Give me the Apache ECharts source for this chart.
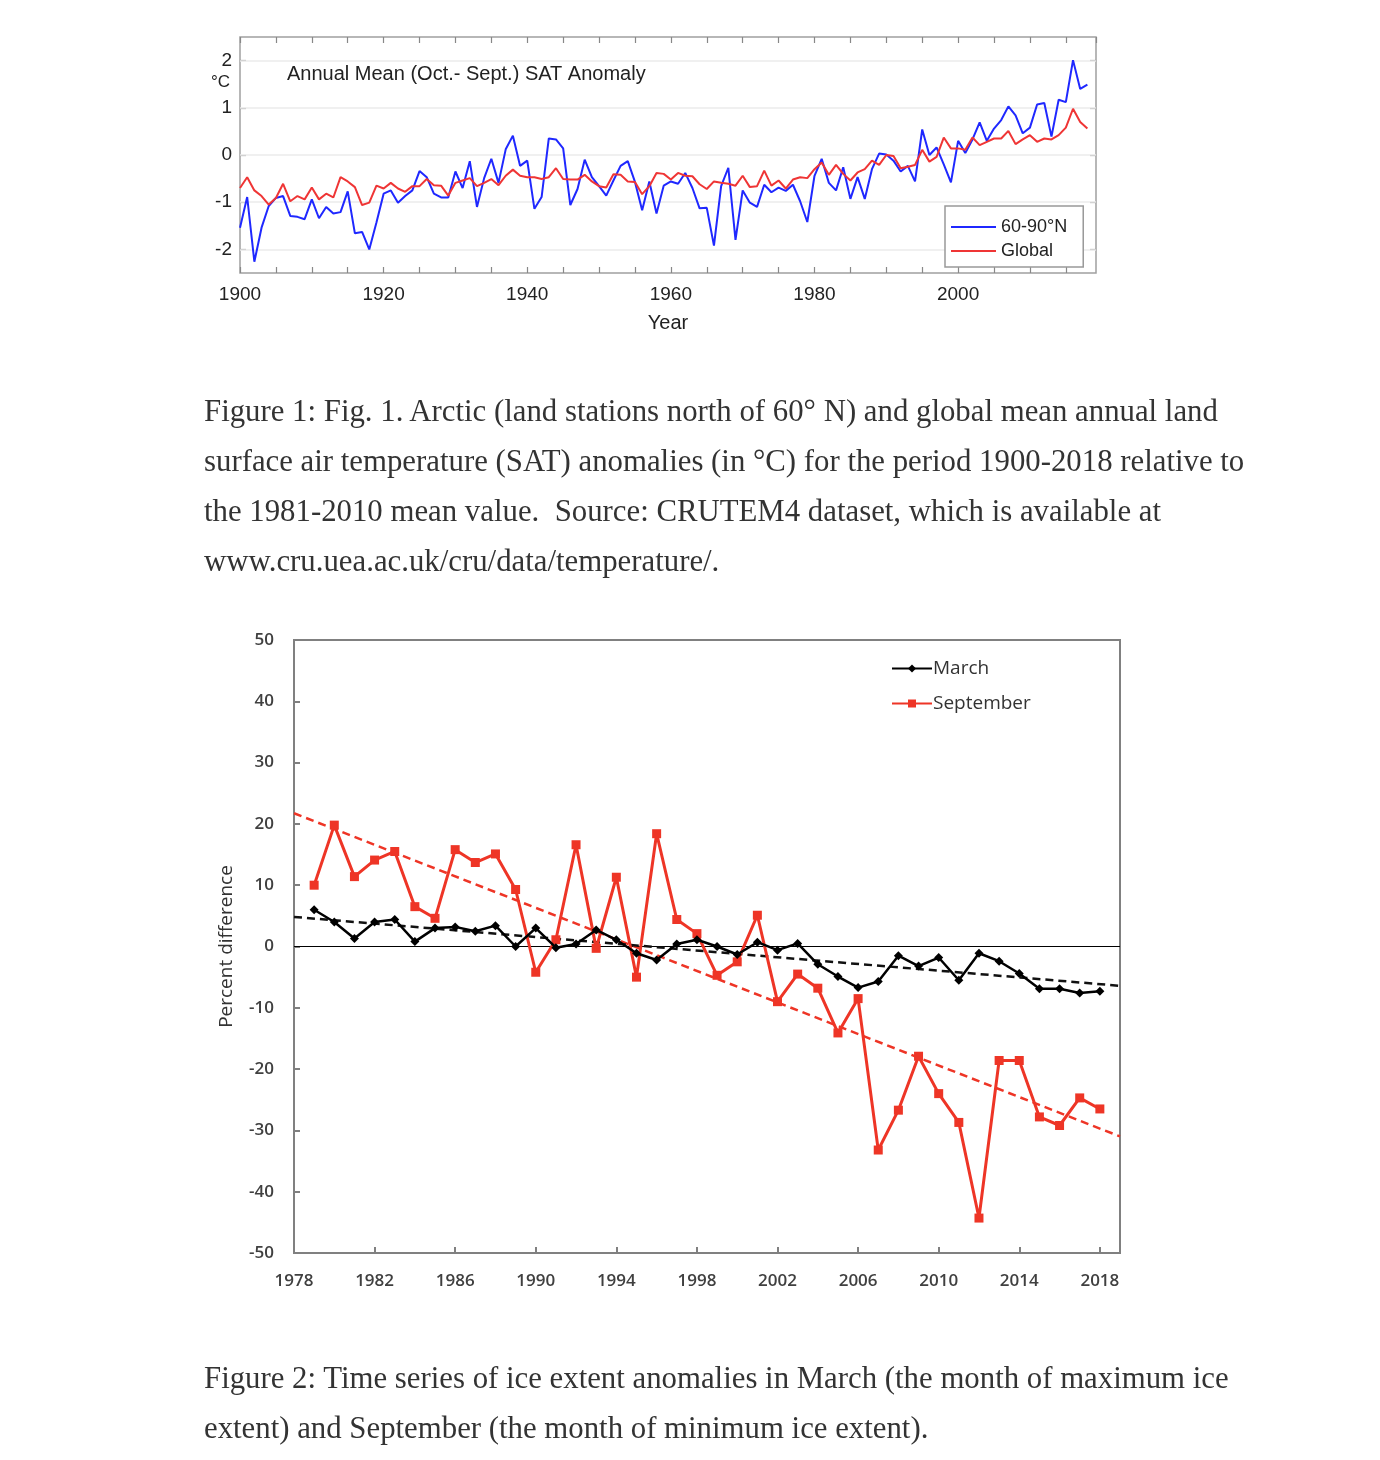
<!DOCTYPE html>
<html>
<head>
<meta charset="utf-8">
<script src="https://cdn.jsdelivr.net/npm/echarts@6/dist/echarts.min.js"></script>
<style>
  html, body { margin: 0; padding: 0; background: #fff; }
  #chart { position: absolute; left: 0; top: 0; width: 1380px; height: 1460px; }
  .cap { position: absolute; left: 204px; font-family: "Liberation Serif", "DejaVu Serif", serif;
         font-size: 30.8px; line-height: 50px; color: #333; white-space: nowrap; }
</style>
</head>
<body>
<div id="chart"></div>
<div class="cap" style="top:386px">Figure 1: Fig. 1. Arctic (land stations north of 60° N) and global mean annual land<br>surface air temperature (SAT) anomalies (in °C) for the period 1900-2018 relative to<br>the 1981-2010 mean value.&nbsp; Source: CRUTEM4 dataset, which is available at<br>www.cru.uea.ac.uk/cru/data/temperature/.</div>
<div class="cap" style="top:1353px">Figure 2: Time series of ice extent anomalies in March (the month of maximum ice<br>extent) and September (the month of minimum ice extent).</div>
<script>
// ---------- Figure 1 data (annual SAT anomalies, °C) ----------
const satStartYear = 1900;
const arcticSAT = [
  -1.54,-0.89,-2.26,-1.54,-1.08,-0.91,-0.87,-1.29,-1.31,-1.36,
  -0.94,-1.34,-1.10,-1.24,-1.21,-0.77,-1.66,-1.63,-2.00,-1.43,
  -0.82,-0.75,-1.01,-0.87,-0.75,-0.34,-0.47,-0.82,-0.90,-0.90,
  -0.35,-0.70,-0.13,-1.10,-0.49,-0.08,-0.59, 0.12, 0.41,-0.23,
  -0.12,-1.14,-0.89, 0.35, 0.33, 0.14,-1.06,-0.72,-0.10,-0.47,
  -0.66,-0.86,-0.54,-0.23,-0.13,-0.57,-1.17,-0.56,-1.24,-0.65,
  -0.56,-0.61,-0.38,-0.70,-1.13,-1.12,-1.92,-0.66,-0.27,-1.80,
  -0.75,-1.01,-1.10,-0.63,-0.79,-0.69,-0.76,-0.63,-0.98,-1.42,
  -0.44,-0.08,-0.59,-0.75,-0.26,-0.93,-0.47,-0.93,-0.30, 0.03,
   0.01,-0.12,-0.35,-0.23,-0.56, 0.54, 0.00, 0.16,-0.20,-0.58,
   0.30, 0.04, 0.33, 0.69, 0.30, 0.56, 0.74, 1.03, 0.84, 0.46,
   0.58, 1.07, 1.10, 0.39, 1.17, 1.12, 2.01, 1.40, 1.49
];
const globalSAT = [
  -0.70,-0.47,-0.75,-0.87,-1.05,-0.91,-0.61,-0.98,-0.87,-0.94,
  -0.69,-0.94,-0.82,-0.90,-0.47,-0.56,-0.68,-1.06,-1.01,-0.65,
  -0.71,-0.59,-0.71,-0.78,-0.66,-0.66,-0.51,-0.64,-0.65,-0.86,
  -0.59,-0.54,-0.49,-0.66,-0.59,-0.51,-0.64,-0.44,-0.31,-0.44,
  -0.47,-0.47,-0.51,-0.47,-0.28,-0.51,-0.52,-0.52,-0.42,-0.56,
  -0.66,-0.69,-0.41,-0.42,-0.56,-0.57,-0.83,-0.66,-0.38,-0.40,
  -0.52,-0.38,-0.44,-0.45,-0.62,-0.72,-0.56,-0.59,-0.61,-0.65,
  -0.44,-0.68,-0.66,-0.33,-0.65,-0.54,-0.71,-0.52,-0.47,-0.49,
  -0.30,-0.16,-0.42,-0.21,-0.40,-0.54,-0.37,-0.30,-0.12,-0.21,
   0.00,-0.02,-0.28,-0.25,-0.21, 0.11,-0.14,-0.04, 0.37, 0.14,
   0.14, 0.11, 0.37, 0.21, 0.28, 0.35, 0.35, 0.51, 0.23, 0.33,
   0.42, 0.28, 0.35, 0.33, 0.42, 0.58, 0.98, 0.70, 0.56
];
const satYTicks = [-2, -1, 0, 1, 2];
const satXLabelYears = [1900, 1920, 1940, 1960, 1980, 2000];

// ---------- Figure 2 data (ice extent anomalies, %) ----------
const iceYears = [1979,1980,1981,1982,1983,1984,1985,1986,1987,1988,
                  1989,1990,1991,1992,1993,1994,1995,1996,1997,1998,
                  1999,2000,2001,2002,2003,2004,2005,2006,2007,2008,
                  2009,2010,2011,2012,2013,2014,2015,2016,2017,2018];
const marchAnomaly = [
   6.0, 4.0, 1.3, 4.0, 4.4, 0.8, 3.0, 3.2, 2.5, 3.4,
   0.0, 3.0,-0.2, 0.4, 2.7, 1.1,-1.1,-2.2, 0.4, 1.1,
   0.0,-1.3, 0.7,-0.6, 0.5,-2.9,-4.9,-6.7,-5.7,-1.5,
  -3.2,-1.8,-5.5,-1.1,-2.4,-4.4,-6.9,-6.9,-7.6,-7.3
];
const septemberAnomaly = [
  10.0,19.8,11.4,14.1,15.5, 6.5, 4.6,15.8,13.7,15.1,
   9.3,-4.2, 1.1,16.6,-0.3,11.3,-5.0,18.4, 4.4, 2.1,
  -4.7,-2.5, 5.1,-9.0,-4.5,-6.8,-14.1,-8.5,-33.2,-26.7,
  -17.9,-24.0,-28.7,-44.3,-18.6,-18.6,-27.8,-29.2,-24.7,-26.5
];
const iceXRange = [1978, 2019];
const iceYTicks = [-50, 50, 10];

// ---------- helpers ----------
function pairs(start, vals) { return vals.map((v, i) => [start + i, v]); }
function zip(xs, ys) { return xs.map((x, i) => [x, ys[i]]); }
function trendLine(xs, ys, x0, x1) {
  const n = xs.length;
  const mx = xs.reduce((a, b) => a + b, 0) / n;
  const my = ys.reduce((a, b) => a + b, 0) / n;
  let sxy = 0, sxx = 0;
  for (let i = 0; i < n; i++) { sxy += (xs[i] - mx) * (ys[i] - my); sxx += (xs[i] - mx) * (xs[i] - mx); }
  const b = sxy / sxx, a = my - b * mx;
  return [[x0, a + b * x0], [x1, a + b * x1]];
}

const BLUE = '#1f28ff', RED1 = '#ef3535', RED2 = '#ee3526';
const sansTop = 'Liberation Sans, Arial, sans-serif';
const sansBot = 'Open Sans, Lato, sans-serif';

const chart = echarts.init(document.getElementById('chart'));
chart.setOption({
  animation: false,
  backgroundColor: 'transparent',
  title: {
    text: 'Annual Mean (Oct.- Sept.) SAT Anomaly',
    left: 282, top: 59,
    textStyle: { fontFamily: sansTop, fontSize: 20, fontWeight: 'normal', color: '#222' }
  },
  graphic: [
    { type: 'text', left: 211, top: 74, style: { text: '°C', fontFamily: sansTop, fontSize: 17, fill: '#222' } }
  ],
  legend: [
    {
      data: ['60-90°N', 'Global'],
      orient: 'vertical', left: 945, top: 206, z: 20,
      icon: 'rect', itemWidth: 45, itemHeight: 2, itemGap: 4,
      padding: [11, 16, 6, 6],
      backgroundColor: '#fff',
      borderColor: '#999', borderWidth: 1.5,
      textStyle: { fontFamily: sansTop, fontSize: 18, color: '#222', lineHeight: 20 }
    },
    {
      data: ['March', 'September'],
      orient: 'vertical', left: 886, top: 654, z: 20,
      itemWidth: 40, itemHeight: 10, itemGap: 16,
      textStyle: { fontFamily: sansBot, fontSize: 19, color: '#333', padding: [0, 0, 0, -4] }
    }
  ],
  grid: [
    { left: 240, top: 37, width: 856, height: 236, show: true, borderColor: '#a0a0a0', borderWidth: 1.5, backgroundColor: 'transparent' },
    { left: 294, top: 640, width: 826, height: 613, show: true, borderColor: '#808080', borderWidth: 2, backgroundColor: 'transparent' }
  ],
  xAxis: [
    {
      type: 'value', gridIndex: 0, min: satStartYear, max: 2019.2, interval: 5,
      axisLine: { show: false, onZero: false },
      axisTick: { inside: true, length: 6, lineStyle: { color: '#888', width: 1.2 } },
      axisLabel: {
        fontFamily: sansTop, fontSize: 19, color: '#222', margin: 12, showMaxLabel: false,
        formatter: v => satXLabelYears.includes(v) ? String(v) : ''
      },
      splitLine: { show: false },
      name: 'Year', nameLocation: 'middle', nameGap: 40,
      nameTextStyle: { fontFamily: sansTop, fontSize: 20, color: '#222' }
    },
    {
      type: 'value', gridIndex: 0, position: 'top', min: satStartYear, max: 2019.2, interval: 5,
      axisLine: { show: false, onZero: false },
      axisTick: { inside: true, length: 6, lineStyle: { color: '#888', width: 1.2 } },
      axisLabel: { show: false }, splitLine: { show: false }
    },
    {
      type: 'value', gridIndex: 1, min: iceXRange[0], max: iceXRange[1], interval: 4,
      axisLine: { show: true, onZero: false, lineStyle: { color: '#808080', width: 2 } },
      axisTick: { inside: true, length: 6, lineStyle: { color: '#808080', width: 2 } },
      axisLabel: {
        fontFamily: sansBot, fontSize: 17, fontWeight: 600, color: '#404040', margin: 20, showMaxLabel: false,
        formatter: v => String(v)
      },
      splitLine: { show: false }
    }
  ],
  yAxis: [
    {
      type: 'value', gridIndex: 0, min: -2.5, max: 2.5,
      axisLine: { show: false, onZero: false },
      axisTick: { inside: true, length: 6, customValues: satYTicks, lineStyle: { color: '#888', width: 1.2 } },
      axisLabel: { fontFamily: sansTop, fontSize: 19, color: '#222', margin: 8, customValues: satYTicks },
      splitLine: { show: false }
    },
    {
      type: 'value', gridIndex: 0, position: 'right', min: -2.5, max: 2.5,
      axisLine: { show: false, onZero: false },
      axisTick: { inside: true, length: 6, customValues: satYTicks, lineStyle: { color: '#888', width: 1.2 } },
      axisLabel: { show: false, customValues: satYTicks },
      splitLine: { show: false }
    },
    {
      type: 'value', gridIndex: 1, min: iceYTicks[0], max: iceYTicks[1], interval: iceYTicks[2],
      axisLine: { show: true, onZero: false, lineStyle: { color: '#808080', width: 2 } },
      axisTick: { inside: true, length: 6, lineStyle: { color: '#808080', width: 2 } },
      axisLabel: { fontFamily: sansBot, fontSize: 17, fontWeight: 600, color: '#404040', margin: 20 },
      splitLine: { show: false },
      name: 'Percent difference', nameLocation: 'middle', nameGap: 58, nameRotate: 90,
      nameTextStyle: { fontFamily: sansBot, fontSize: 19, color: '#333' }
    }
  ],
  series: [
    {
      type: 'line', xAxisIndex: 0, yAxisIndex: 0, data: [], silent: true, z: 1,
      markLine: {
        silent: true, symbol: 'none', label: { show: false }, z: 1,
        lineStyle: { color: '#ebebeb', width: 1.5, type: 'solid' },
        data: satYTicks.map(v => ({ yAxis: v }))
      }
    },
    {
      name: '60-90°N', type: 'line', xAxisIndex: 0, yAxisIndex: 0,
      data: pairs(satStartYear, arcticSAT), showSymbol: false, symbol: 'none',
      lineStyle: { color: BLUE, width: 2 }, itemStyle: { color: BLUE }, z: 3
    },
    {
      name: 'Global', type: 'line', xAxisIndex: 0, yAxisIndex: 0,
      data: pairs(satStartYear, globalSAT), showSymbol: false, symbol: 'none',
      lineStyle: { color: RED1, width: 2 }, itemStyle: { color: RED1 }, z: 4
    },
    {
      type: 'line', xAxisIndex: 2, yAxisIndex: 2, silent: true, symbol: 'none',
      data: trendLine(iceYears, septemberAnomaly, iceXRange[0], iceXRange[1]),
      lineStyle: { color: RED2, width: 2.5, type: [8, 5] }, z: 2
    },
    {
      type: 'line', xAxisIndex: 2, yAxisIndex: 2, silent: true, symbol: 'none',
      data: trendLine(iceYears, marchAnomaly, iceXRange[0], iceXRange[1]),
      lineStyle: { color: '#111', width: 2.5, type: [8, 5] }, z: 2
    },
    {
      name: 'March', type: 'line', xAxisIndex: 2, yAxisIndex: 2,
      data: zip(iceYears, marchAnomaly), symbol: 'diamond', symbolSize: 9,
      lineStyle: { color: '#000', width: 2.5 }, itemStyle: { color: '#000' }, z: 4,
      markLine: {
        silent: true, symbol: 'none', label: { show: false }, z: 1,
        lineStyle: { color: '#000', width: 1.2, type: 'solid' },
        data: [{ yAxis: 0 }]
      }
    },
    {
      name: 'September', type: 'line', xAxisIndex: 2, yAxisIndex: 2,
      data: zip(iceYears, septemberAnomaly), symbol: 'rect', symbolSize: 9,
      lineStyle: { color: RED2, width: 3 }, itemStyle: { color: RED2 }, z: 3
    }
  ]
});
</script>
</body>
</html>
